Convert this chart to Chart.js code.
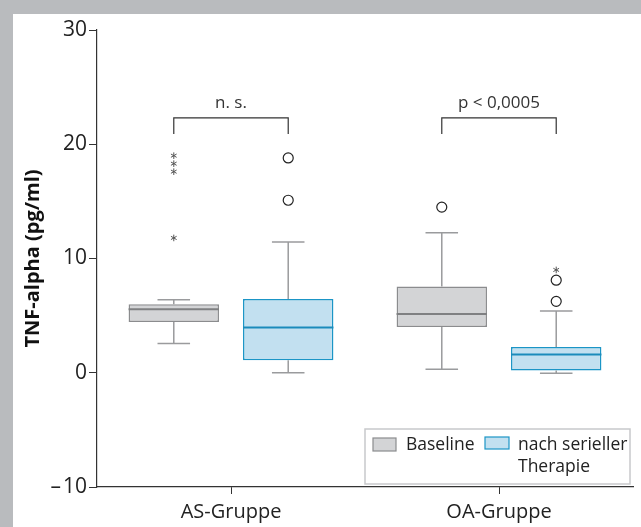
<!DOCTYPE html>
<html>
<head>
<meta charset="utf-8">
<script src="https://cdn.jsdelivr.net/npm/chart.js@4.4.1/dist/chart.umd.min.js"></script>
<style>
html, body { margin: 0; padding: 0; background: #fff; }
#frame { position: absolute; left: 0; top: 0; width: 641px; height: 527px; background: #b9bbbe; }
#wrap { position: absolute; left: 13px; top: 14px; width: 628px; height: 513px; background: #fff; }
</style>
</head>
<body>
<div id="frame"><div id="wrap"><canvas id="chart" width="628" height="513"></canvas></div></div>
<script>
// categories + box plot stats
const categories = ['AS-Gruppe', 'OA-Gruppe'];

const baseQ1 = [4.45, 4.0];
const baseQ3 = [6.0, 7.55];
const baseMedian = [5.55, 5.15];
const baseLow = [2.55, 0.3];
const baseHigh = [6.4, 12.25];
const baseCircles = [[], [14.5]];
const baseStars = [[19.0, 18.3, 17.6, 11.8], []];

const postQ1 = [1.1, 0.2];
const postQ3 = [6.45, 2.25];
const postMedian = [3.95, 1.6];
const postLow = [0.0, -0.05];
const postHigh = [11.45, 5.4];
const postCircles = [[18.8, 15.1], [8.1, 6.25]];
const postStars = [[], [9.0]];

const sigLabels = ['n. s.', 'p < 0,0005'];
const sigLevel = 22.3;
const sigDrop = 20.9;
const sigText = 23.6;

const yTicks = [-10, 0, 10, 20, 30];

const FONT = "'Open Sans', 'Liberation Sans', sans-serif";
const GREY = '#d3d4d6', GREY_LINE = '#8b8c8e';
const BLUE = '#c2e0f0', BLUE_LINE = '#1b95c6';

let stats = [
    { median: baseMedian, low: baseLow, high: baseHigh, circles: baseCircles, stars: baseStars, mline: '#7f8082' },
    { median: postMedian, low: postLow, high: postHigh, circles: postCircles, stars: postStars, mline: '#1b8bbb' }
];

// draws whiskers, medians, outliers, brackets and the legend box
let boxExtras = {
    id: 'boxExtras',
    afterDatasetsDraw(chart) {
        let ctx = chart.ctx;
        let y = chart.scales.y;
        let pos = [];
        ctx.save();
        stats.forEach((s, d) => {
            let meta = chart.getDatasetMeta(d);
            pos[d] = [];
            meta.data.forEach((bar, i) => {
                let x = bar.x, w = bar.width;
                pos[d][i] = x;
                let q1 = chart.data.datasets[d].data[i][0];
                let q3 = chart.data.datasets[d].data[i][1];
                let cap = w * 0.36;
                ctx.strokeStyle = '#9a9b9d';
                ctx.lineWidth = 1.5;
                ctx.beginPath();
                ctx.moveTo(x, y.getPixelForValue(q3));
                ctx.lineTo(x, y.getPixelForValue(s.high[i]));
                ctx.moveTo(x - cap / 2, y.getPixelForValue(s.high[i]));
                ctx.lineTo(x + cap / 2, y.getPixelForValue(s.high[i]));
                ctx.moveTo(x, y.getPixelForValue(q1));
                ctx.lineTo(x, y.getPixelForValue(s.low[i]));
                ctx.moveTo(x - cap / 2, y.getPixelForValue(s.low[i]));
                ctx.lineTo(x + cap / 2, y.getPixelForValue(s.low[i]));
                ctx.stroke();
                // median
                ctx.strokeStyle = s.mline;
                ctx.lineWidth = 2;
                ctx.beginPath();
                ctx.moveTo(x - w / 2, y.getPixelForValue(s.median[i]));
                ctx.lineTo(x + w / 2, y.getPixelForValue(s.median[i]));
                ctx.stroke();
                // outliers
                ctx.strokeStyle = '#222';
                ctx.lineWidth = 1.2;
                s.circles[i].forEach(v => {
                    ctx.beginPath();
                    ctx.arc(x, y.getPixelForValue(v), 5, 0, Math.PI * 2);
                    ctx.stroke();
                });
                ctx.strokeStyle = '#555';
                ctx.lineWidth = 1;
                s.stars[i].forEach(v => {
                    let py = y.getPixelForValue(v);
                    ctx.beginPath();
                    for (let k = 0; k < 3; k++) {
                        let a = Math.PI / 2 + k * Math.PI / 3;
                        ctx.moveTo(x - 3.3 * Math.cos(a), py - 3.3 * Math.sin(a));
                        ctx.lineTo(x + 3.3 * Math.cos(a), py + 3.3 * Math.sin(a));
                    }
                    ctx.stroke();
                });
            });
        });
        // significance brackets
        ctx.strokeStyle = '#333';
        ctx.lineWidth = 1.2;
        ctx.fillStyle = '#333';
        ctx.font = '17px ' + FONT;
        ctx.textAlign = 'center';
        ctx.textBaseline = 'middle';
        categories.forEach((c, i) => {
            let x1 = pos[0][i], x2 = pos[1][i];
            ctx.beginPath();
            ctx.moveTo(x1, y.getPixelForValue(sigDrop));
            ctx.lineTo(x1, y.getPixelForValue(sigLevel));
            ctx.lineTo(x2, y.getPixelForValue(sigLevel));
            ctx.lineTo(x2, y.getPixelForValue(sigDrop));
            ctx.stroke();
            ctx.fillText(sigLabels[i], (x1 + x2) / 2, y.getPixelForValue(sigText));
        });
        // legend box
        let lx = 352, ly = 415, lw = 265, lh = 55;
        ctx.fillStyle = '#fff';
        ctx.fillRect(lx, ly, lw, lh);
        ctx.strokeStyle = '#c8c9cb';
        ctx.lineWidth = 1.5;
        ctx.strokeRect(lx, ly, lw, lh);
        ctx.lineWidth = 1.2;
        ctx.fillStyle = GREY;
        ctx.strokeStyle = GREY_LINE;
        ctx.fillRect(lx + 8, ly + 9, 23, 13);
        ctx.strokeRect(lx + 8, ly + 9, 23, 13);
        ctx.fillStyle = BLUE;
        ctx.strokeStyle = BLUE_LINE;
        ctx.fillRect(lx + 120, ly + 8, 24, 12);
        ctx.strokeRect(lx + 120, ly + 8, 24, 12);
        ctx.fillStyle = '#222';
        ctx.font = '17.5px ' + FONT;
        ctx.textAlign = 'left';
        ctx.fillText('Baseline', lx + 41, ly + 16);
        ctx.fillText('nach serieller', lx + 153, ly + 16);
        ctx.fillText('Therapie', lx + 153, ly + 38);
        ctx.restore();
    }
};

let ctx = document.getElementById('chart').getContext('2d');
new Chart(ctx, {
    type: 'bar',
    data: {
        labels: categories,
        datasets: [
            {
                label: 'Baseline',
                data: categories.map((c, i) => [baseQ1[i], baseQ3[i]]),
                backgroundColor: GREY,
                borderColor: GREY_LINE,
                borderWidth: 1.5,
                borderSkipped: false,
                categoryPercentage: 0.854,
                barPercentage: 0.79
            },
            {
                label: 'nach serieller Therapie',
                data: categories.map((c, i) => [postQ1[i], postQ3[i]]),
                backgroundColor: BLUE,
                borderColor: BLUE_LINE,
                borderWidth: 1.5,
                borderSkipped: false,
                categoryPercentage: 0.854,
                barPercentage: 0.79
            }
        ]
    },
    options: {
        responsive: false,
        animation: false,
        layout: { padding: { top: 16, right: 8, left: 0, bottom: 0 } },
        plugins: {
            legend: { display: false },
            tooltip: { enabled: false }
        },
        scales: {
            x: {
                offset: true,
                afterFit: scale => { scale.height = 40; },
                grid: { offset: false, drawOnChartArea: false, tickLength: 7, color: '#333' },
                border: { color: '#333', width: 1.2 },
                ticks: { color: '#222', font: { family: FONT, size: 20 }, padding: 6 }
            },
            y: {
                min: -10,
                max: 30,
                afterFit: scale => { scale.width = 84; },
                afterBuildTicks: scale => { scale.ticks = yTicks.map(v => ({ value: v })); },
                grid: { drawOnChartArea: false, tickLength: 8, color: '#333' },
                border: { color: '#333', width: 1.2 },
                ticks: {
                    color: '#222',
                    padding: 2,
                    font: { family: FONT, size: 21 },
                    callback: v => v < 0 ? '\u2013\u200a' + Math.abs(v) : '' + v
                },
                title: {
                    display: true,
                    text: 'TNF-alpha (pg/ml)',
                    color: '#111',
                    font: { family: FONT, size: 20, weight: 'bold' },
                    padding: { top: 8, bottom: 0 }
                }
            }
        }
    },
    plugins: [boxExtras]
});
</script>
</body>
</html>
